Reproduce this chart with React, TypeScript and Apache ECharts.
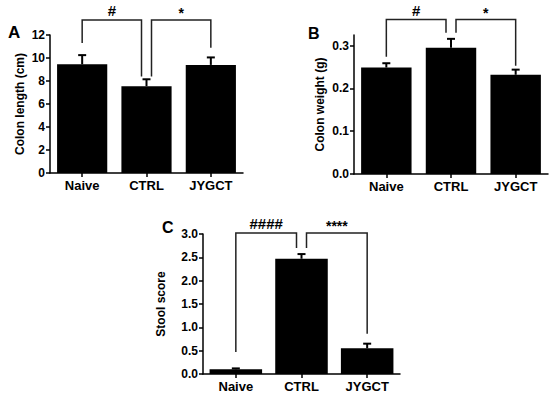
import React, { useEffect, useRef } from "react";
import * as echarts from "echarts";

const categories = ["Naive", "CTRL", "JYGCT"];

const lengthMeans = [9.45, 7.55, 9.4];
const lengthUpper = [10.25, 8.15, 10.05];

const weightMeans = [0.249, 0.295, 0.232];
const weightUpper = [0.259, 0.316, 0.244];

const stoolMeans = [0.1, 2.47, 0.55];
const stoolUpper = [0.12, 2.57, 0.65];

// [fromCategory, toCategory, fromLegBottom, toLegBottom, top]
const lengthBrackets = [
  [0, 1, 11.3, 8.4, 13.3],
  [1, 2, 8.4, 10.9, 13.3],
];
const lengthMarks = ["#", "*"];

const weightBrackets = [
  [0, 1, 0.274, 0.33, 0.361],
  [1, 2, 0.33, 0.253, 0.361],
];
const weightMarks = ["#", "*"];

const stoolBrackets = [
  [0, 1, 0.47, 2.7, 3.02],
  [1, 2, 2.7, 0.86, 3.02],
];
const stoolMarks = ["####", "****"];

const FONT = "Liberation Sans, Arial, sans-serif";

export default function App() {
  const ref = useRef<HTMLDivElement>(null);

  useEffect(() => {
    if (!ref.current) return;
    const chart = echarts.init(ref.current, undefined, { renderer: "svg" });

    const errRender = (params: any, api: any) => {
      const base = api.coord([api.value(0), api.value(1)]);
      const top = api.coord([api.value(0), api.value(2)]);
      const x = base[0];
      return {
        type: "group",
        children: [
          { type: "line", shape: { x1: x, y1: base[1], x2: x, y2: top[1] }, style: { stroke: "#000", lineWidth: 2 } },
          { type: "line", shape: { x1: x - 4, y1: top[1], x2: x + 4, y2: top[1] }, style: { stroke: "#000", lineWidth: 2 } },
        ],
      };
    };

    const makeBracketRender = (marks: string[]) => (params: any, api: any) => {
      const from = api.value(0);
      const to = api.value(1);
      const a = api.coord([from, api.value(2)]);
      const b = api.coord([to, api.value(3)]);
      const t = api.coord([from, api.value(4)]);
      let xa = a[0];
      let xb = b[0];
      if (from === 1) xa += 5;
      if (to === 1) xb -= 5;
      const mark = marks[params.dataIndex];
      const isHash = mark.indexOf("#") >= 0;
      return {
        type: "group",
        children: [
          {
            type: "polyline",
            shape: { points: [[xa, a[1]], [xa, t[1]], [xb, t[1]], [xb, b[1]]] },
            style: { stroke: "#222", lineWidth: 1.5, fill: "none" },
          },
          {
            type: "text",
            x: (xa + xb) / 2,
            y: t[1] - (isHash ? 2 : 0),
            style: {
              text: mark,
              fill: "#000",
              font: `bold ${isHash ? 15 : 14}px ${FONT}`,
              align: "center",
              verticalAlign: "bottom",
            },
          },
        ],
      };
    };

    const xAxisBase = (gridIndex: number) => ({
      type: "category",
      gridIndex,
      data: categories,
      axisLine: { lineStyle: { color: "#000", width: 1.5 } },
      axisTick: { show: true, alignWithLabel: true, length: 4, lineStyle: { color: "#000", width: 1.5 } },
      axisLabel: { color: "#000", fontWeight: "bold", fontSize: 13, fontFamily: FONT, margin: 6 },
    });

    const yAxisBase = (gridIndex: number, min: number, max: number, interval: number, name: string, nameGap: number, fmt: (v: number) => string) => ({
      type: "value",
      gridIndex,
      min,
      max,
      interval,
      name,
      nameLocation: "middle",
      nameRotate: 90,
      nameGap,
      nameTextStyle: { color: "#000", fontWeight: "bold", fontSize: 12, fontFamily: FONT },
      splitLine: { show: false },
      axisLine: { show: true, lineStyle: { color: "#000", width: 1.5 } },
      axisTick: { show: true, length: 4, lineStyle: { color: "#000", width: 1.5 } },
      axisLabel: { color: "#000", fontWeight: "bold", fontSize: 12, fontFamily: FONT, margin: 5, formatter: fmt },
    });

    const option: any = {
      animation: false,
      backgroundColor: "#fff",
      title: [
        { text: "A", left: 3, top: 19, textStyle: { fontSize: 17, fontWeight: "bold", fontFamily: FONT, color: "#000" } },
        { text: "B", left: 303, top: 20, textStyle: { fontSize: 16, fontWeight: "bold", fontFamily: FONT, color: "#000" } },
        { text: "C", left: 157, top: 214, textStyle: { fontSize: 16, fontWeight: "bold", fontFamily: FONT, color: "#000" } },
      ],
      grid: [
        { left: 50, top: 35, width: 193, height: 138 },
        { left: 354, top: 35, width: 194, height: 139 },
        { left: 203, top: 234, width: 197, height: 140 },
      ],
      xAxis: [xAxisBase(0), xAxisBase(1), xAxisBase(2)],
      yAxis: [
        yAxisBase(0, 0, 12, 2, "Colon length (cm)", 24, (v: number) => String(v)),
        {
          ...yAxisBase(1, 0, 0.325, 0.1, "Colon weight (g)", 28, (v: number) =>
            Math.abs(v * 10 - Math.round(v * 10)) < 1e-6 ? v.toFixed(1) : ""
          ),
          axisTick: { show: true, length: 4, customValues: [0, 0.1, 0.2, 0.3], lineStyle: { color: "#000", width: 1.5 } },
        },
        yAxisBase(2, 0, 3, 0.5, "Stool score", 36, (v: number) => v.toFixed(1)),
      ],
      series: [
        { type: "bar", xAxisIndex: 0, yAxisIndex: 0, data: lengthMeans, barWidth: "78%", itemStyle: { color: "#000" } },
        { type: "bar", xAxisIndex: 1, yAxisIndex: 1, data: weightMeans, barWidth: "78%", itemStyle: { color: "#000" } },
        { type: "bar", xAxisIndex: 2, yAxisIndex: 2, data: stoolMeans, barWidth: "80%", itemStyle: { color: "#000" } },
        {
          type: "custom", xAxisIndex: 0, yAxisIndex: 0, renderItem: errRender, z: 5,
          data: lengthMeans.map((m, i) => [i, m, lengthUpper[i]]),
        },
        {
          type: "custom", xAxisIndex: 1, yAxisIndex: 1, renderItem: errRender, z: 5,
          data: weightMeans.map((m, i) => [i, m, weightUpper[i]]),
        },
        {
          type: "custom", xAxisIndex: 2, yAxisIndex: 2, renderItem: errRender, z: 5,
          data: stoolMeans.map((m, i) => [i, m, stoolUpper[i]]),
        },
        { type: "custom", xAxisIndex: 0, yAxisIndex: 0, renderItem: makeBracketRender(lengthMarks), data: lengthBrackets, clip: false },
        { type: "custom", xAxisIndex: 1, yAxisIndex: 1, renderItem: makeBracketRender(weightMarks), data: weightBrackets, clip: false },
        { type: "custom", xAxisIndex: 2, yAxisIndex: 2, renderItem: makeBracketRender(stoolMarks), data: stoolBrackets, clip: false },
      ],
    };

    chart.setOption(option);
    return () => chart.dispose();
  }, []);

  return <div ref={ref} style={{ position: "fixed", left: 0, top: 0, width: 550, height: 393 }} />;
}
